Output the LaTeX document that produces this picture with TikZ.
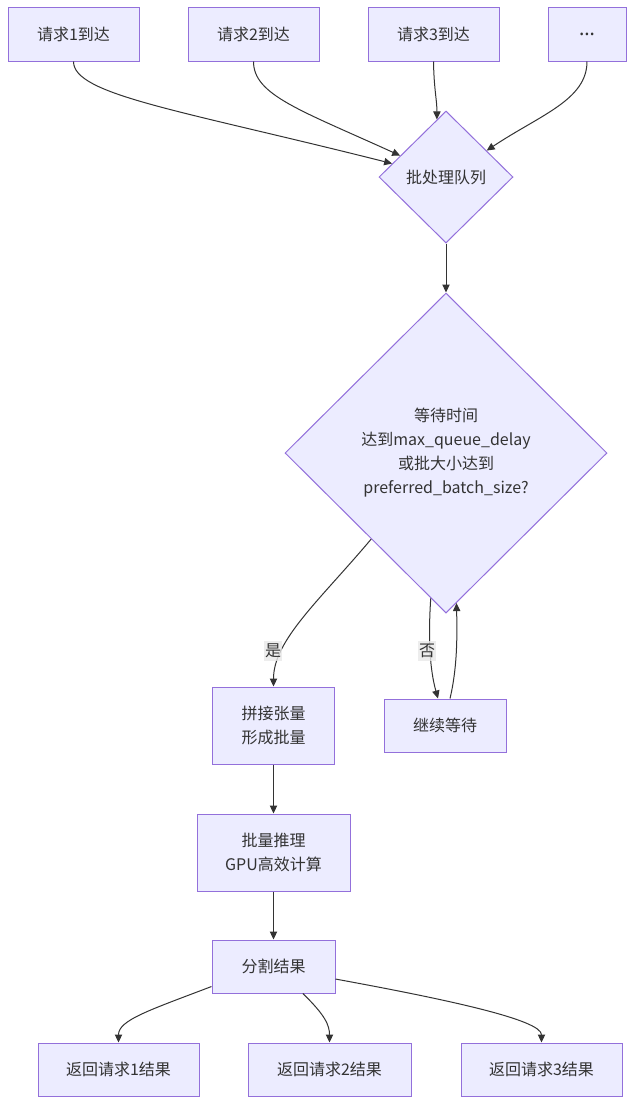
\documentclass[tikz,border=0pt]{standalone}
\usepackage{fontspec}
\setmainfont{Noto Sans CJK SC}
\newfontfamily\latinsans{Noto Sans}
\usetikzlibrary{shapes.geometric,arrows.meta,calc}
\definecolor{nodefill}{HTML}{ECECFF}
\definecolor{nodeline}{HTML}{9370DB}
\definecolor{ink}{HTML}{333333}
\definecolor{lblbg}{HTML}{E8E8E8}
\tikzset{
  wh/.style 2 args={minimum width=#1*0.75pt, minimum height=#2*0.75pt},
  base/.style={draw=nodeline, fill=nodefill, line width=0.75pt, inner sep=0pt,
    text=ink, align=center, font=\fontsize{12pt}{18pt}\selectfont},
  box/.style={base, rectangle},
  dia/.style={base, diamond, aspect=1},
  edge/.style={draw=ink, line width=0.75pt, -{Triangle[length=6pt,width=5.5pt]}},
  lbl/.style={fill=lblbg, fill opacity=0.8, text opacity=1, text=ink, inner xsep=1pt, inner ysep=2pt,
    font=\fontsize{12pt}{14pt}\selectfont}
}
\begin{document}
\begin{tikzpicture}[x=0.75pt,y=-0.75pt]
\useasboundingbox (0,0) rectangle (641,1118);
% nodes
\node[box, wh={131}{54}] (r1) at (73.5,34) {请求1到达};
\node[box, wh={131}{54}] (r2) at (253.5,34) {请求2到达};
\node[box, wh={131}{54}] (r3) at (433.5,34) {请求3到达};
\node[box, wh={78}{54}] (r4) at (587,34) {{\latinsans\fontsize{15pt}{18pt}\selectfont …}};
\node[dia, wh={134}{132}] (q) at (446,177) {批处理队列};
\node[dia, wh={322}{320}] (d) at (446,453) {等待时间\\达到max\_queue\_delay\\或批大小达到\\preferred\_batch\_size?};
\node[box, wh={122}{77}] (cat) at (273.5,725.5) {拼接张量\\形成批量};
\node[box, wh={122}{53}] (wait) at (445,725.5) {继续等待};
\node[box, wh={153}{77}] (inf) at (273.5,852.5) {批量推理\\GPU高效计算};
\node[box, wh={123}{53}] (split) at (273.5,966.5) {分割结果};
\node[box, wh={161}{53}] (o1) at (118.5,1069.5) {返回请求1结果};
\node[box, wh={163}{53}] (o2) at (329.5,1069.5) {返回请求2结果};
\node[box, wh={161}{53}] (o3) at (541.5,1069.5) {返回请求3结果};
% edges top
\draw[edge] (r1.south) .. controls (73.5,95) and (180,110) .. (q.166);
\draw[edge] (r2.south) .. controls (253.5,95) and (300,110) .. (q.155);
\draw[edge] (r3.south) .. controls (434,90) and (437,100) .. (q.99);
\draw[edge] (r4.south) .. controls (587,100) and (540,115) .. (q.33);
\draw[edge] (q.south) -- (d.north);
% decision
\draw[edge] (d.229) .. controls (320,600) and (273.5,640) .. (cat.north);
\node[lbl] (yes) at (273,651) {是};
\draw[edge] (d.264) .. controls (428,640) and (430,670) .. ([xshift=-5.25pt]wait.north);
\node[lbl] (no) at (427,651) {否};
\draw[edge] ([xshift=3.75pt]wait.north) .. controls (458,665) and (457,630) .. (d.274);
% chain
\draw[edge] (cat.south) -- (inf.north);
\draw[edge] (inf.south) -- (split.north);
% outputs
\draw[edge] ([yshift=-15pt]split.west) .. controls (150,1010) and (118.5,1020) .. (o1.north);
\draw[edge] ([xshift=22pt]split.south) .. controls (325,1015) and (329.5,1025) .. (o2.north);
\draw[edge] ([yshift=-9.4pt]split.east) .. controls (450,1000) and (541.5,1020) .. (o3.north);
\end{tikzpicture}
\end{document}
